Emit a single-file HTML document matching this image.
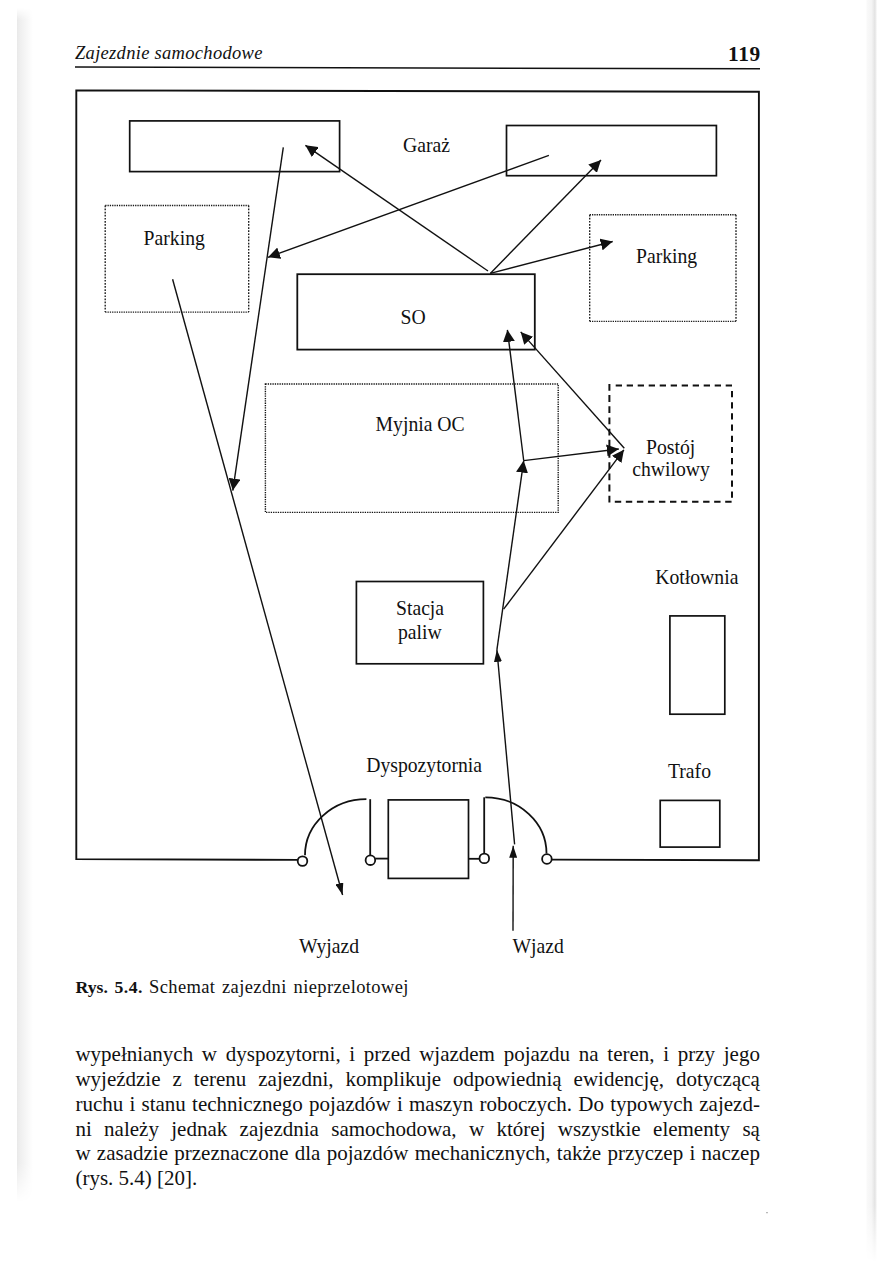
<!DOCTYPE html>
<html><head><meta charset="utf-8">
<style>
html,body{margin:0;padding:0;background:#fff;}
body{width:893px;height:1263px;position:relative;overflow:hidden;font-family:"Liberation Serif",serif;color:#111;}
.band{position:absolute;left:17px;top:8px;width:16px;height:1194px;background:linear-gradient(to right,#e9e9e9 0%,#efefef 20%,#f4f4f4 45%,#fafafa 75%,#fff 100%);-webkit-mask-image:linear-gradient(to bottom,transparent 0,#000 12px,#000 1155px,transparent 1194px);mask-image:linear-gradient(to bottom,transparent 0,#000 12px,#000 1155px,transparent 1194px);}
.rline{position:absolute;left:866px;top:0;width:11px;height:1262px;background:linear-gradient(to right,#fff 0%,#f9f9f9 10%,#f4f4f4 50%,#ececec 65%,#e3e3e3 80%,#f0f0f0 92%,#fff 100%);-webkit-mask-image:linear-gradient(to bottom,#000 0,#000 1205px,transparent 1262px);mask-image:linear-gradient(to bottom,#000 0,#000 1205px,transparent 1262px);}
svg{position:absolute;left:0;top:0;}
.hdr{position:absolute;font-size:18.5px;font-style:italic;left:75px;top:42px;letter-spacing:0.3px;white-space:nowrap;line-height:22px;}
.pno{position:absolute;font-size:21.4px;font-weight:bold;right:132.1px;top:42.5px;letter-spacing:0.65px;white-space:nowrap;line-height:22px;}
.body{position:absolute;left:75.4px;top:1042.4px;width:684.5px;font-size:21px;}
.body div{height:24.75px;line-height:24.75px;text-align:justify;text-align-last:justify;white-space:nowrap;}
.body div.last{text-align-last:left;}
.cap{position:absolute;top:975.7px;font-size:18.5px;letter-spacing:0.38px;white-space:nowrap;line-height:22px;}
.cap b{font-size:17.7px;letter-spacing:0;}
</style></head>
<body>
<div class="band"></div>
<div class="rline"></div>
<div class="hdr">Zajezdnie samochodowe</div>
<div class="pno">119</div>
<svg width="893" height="1263" viewBox="0 0 893 1263">
<defs>
<marker id="ah" viewBox="0 0 12 12" refX="12" refY="6" markerWidth="12" markerHeight="12" markerUnits="userSpaceOnUse" orient="auto">
<path d="M0,0 L12,6 L0,12 z" fill="#111"/>
</marker>
<marker id="ahs" viewBox="0 0 12 8" refX="12" refY="4" markerWidth="12" markerHeight="8" markerUnits="userSpaceOnUse" orient="auto">
<path d="M0,0 L12,4 L0,8 z" fill="#111"/>
</marker>
</defs>
<g fill="none" stroke="#111" stroke-linecap="butt">
<!-- header rule -->
<line x1="75" y1="67.1" x2="760" y2="68.8" stroke-width="1.5"/>
<!-- frame -->
<path d="M297.4,859.9 L76.3,859.1 L76.3,90.4 L758.9,91.8 L758.9,860.3 L552,859.6" stroke-width="1.9"/>
<!-- garage boxes -->
<rect x="129.7" y="120.9" width="209.9" height="50.7" stroke-width="1.7"/>
<rect x="506.5" y="125.5" width="209.9" height="50.2" stroke-width="1.7"/>
<!-- SO -->
<rect x="297.3" y="274.2" width="237.5" height="75.4" stroke-width="1.8"/>
<!-- stacja -->
<rect x="356.4" y="581.5" width="127" height="82.3" stroke-width="1.7"/>
<!-- kotlownia -->
<rect x="669.9" y="615.9" width="54.9" height="98.3" stroke-width="1.7"/>
<!-- trafo -->
<rect x="660.2" y="800.4" width="59.6" height="46.7" stroke-width="1.7"/>
<!-- dyspozytornia -->
<rect x="388.3" y="799.9" width="80.2" height="78.5" stroke-width="1.7"/>
</g>
<!-- dotted boxes -->
<g fill="none" stroke="#1a1a1a" stroke-width="1.35">
<path d="M105.2,205.5 H248.7 M105.2,312.1 H248.7" stroke-dasharray="1.3 1"/>
<path d="M105.2,205.5 V312.1 M248.7,205.5 V312.1" stroke-dasharray="1.7 1.4"/>
<path d="M589.7,214.7 H736.0 M589.7,321.29999999999995 H736.0" stroke-dasharray="1.3 1"/>
<path d="M589.7,214.7 V321.29999999999995 M736.0,214.7 V321.29999999999995" stroke-dasharray="1.7 1.4"/>
</g>
<rect x="265.4" y="384" width="292.8" height="128.4" fill="none" stroke="#111" stroke-width="1.4" stroke-dasharray="1.3 1.05"/>
<!-- dashed postoj -->
<g fill="none" stroke="#111" stroke-width="2">
<path d="M615.7,385.4 H733" stroke-dasharray="6.3 4.7"/>
<path d="M614.8,501.8 H733" stroke-dasharray="6.4 4.64"/>
<path d="M609.4,383.9 V502.8" stroke-dasharray="6.8 4.39"/>
<path d="M732,391 V498" stroke-dasharray="6.2 4.98"/>
</g>
<!-- gates -->
<g fill="none" stroke="#111" stroke-width="1.8">
<path d="M305,855.3 A61.4,56.1 0 0 1 366.4,799.2"/>
<line x1="370.2" y1="799.2" x2="370.2" y2="855.2"/>
<line x1="375.2" y1="858.6" x2="388.3" y2="858.6"/>
<line x1="468.5" y1="858.8" x2="479.3" y2="858.8"/>
<line x1="484.2" y1="797.3" x2="484.2" y2="853.3"/>
<path d="M485.3,797.3 A61.2,56.1 0 0 1 546.5,853.6"/>
<circle cx="302.5" cy="861.1" r="4.8" fill="#fff"/>
<circle cx="370.4" cy="860.2" r="4.8" fill="#fff"/>
<circle cx="484.3" cy="858.4" r="4.8" fill="#fff"/>
<circle cx="546.9" cy="859" r="4.8" fill="#fff"/>
</g>
<!-- arrows -->
<g fill="none" stroke="#111" stroke-width="1.4">
<!-- 1: garage-left down to tip -->
<line x1="283.3" y1="147.3" x2="232.8" y2="490.6" marker-end="url(#ah)"/>
<!-- 2: parking-left to wyjazd -->
<line x1="172.6" y1="279.3" x2="342.6" y2="895" marker-end="url(#ahs)"/>
<!-- 3: SO top to garage-left -->
<line x1="488" y1="271" x2="305.4" y2="145.3" marker-end="url(#ah)"/>
<!-- 4: garage-right to line1 -->
<line x1="548.9" y1="155.3" x2="268" y2="257.3" marker-end="url(#ah)"/>
<!-- 5: SO top to garage-right -->
<line x1="490.3" y1="273.4" x2="601" y2="160.1" marker-end="url(#ah)"/>
<!-- 6: SO top to parking-right -->
<line x1="490.3" y1="273.4" x2="612.7" y2="241.5" marker-end="url(#ah)"/>
<!-- 7: branch up into SO -->
<line x1="523.7" y1="460.6" x2="507.4" y2="329.9" marker-end="url(#ah)"/>
<!-- 8: postoj to SO corner -->
<line x1="624.3" y1="448.2" x2="520.7" y2="331.9" marker-end="url(#ah)"/>
<!-- 9: branch to postoj -->
<line x1="523.7" y1="460.6" x2="618.8" y2="449" marker-end="url(#ah)"/>
<!-- 10: stacja branch to postoj -->
<line x1="503.6" y1="609.2" x2="623.9" y2="449.8" marker-end="url(#ah)"/>
<!-- 11: chain up -->
<line x1="496.9" y1="649.8" x2="523.7" y2="460.6" marker-end="url(#ah)"/>
<line x1="514.6" y1="844.4" x2="496.9" y2="649.8" marker-end="url(#ahs)"/>
<!-- 12: wjazd -->
<line x1="513" y1="930.7" x2="513.2" y2="845.8" marker-end="url(#ahs)"/>
</g>
<!-- labels -->
<g font-family="Liberation Serif" font-size="19.7" fill="#111">
<text x="403" transform="translate(0,152.2) scale(1,1.045)">Garaż</text>
<text x="143.6" transform="translate(0,244.6) scale(1,1.045)">Parking</text>
<text x="636" transform="translate(0,262.8) scale(1,1.045)">Parking</text>
<text x="400.6" transform="translate(0,324) scale(1,1.045)">SO</text>
<text x="375.6" transform="translate(0,431) scale(1,1.045)">Myjnia OC</text>
<text x="646" transform="translate(0,454.2) scale(1,1.045)">Postój</text>
<text x="632.3" transform="translate(0,476) scale(1,1.045)">chwilowy</text>
<text x="396" transform="translate(0,615) scale(1,1.045)">Stacja</text>
<text x="398" transform="translate(0,638.8) scale(1,1.045)">paliw</text>
<text x="655.3" transform="translate(0,583.6) scale(1,1.045)">Kotłownia</text>
<text x="668" transform="translate(0,777.8) scale(1,1.045)">Trafo</text>
<text x="366.2" transform="translate(0,771.8) scale(1,1.045)">Dyspozytornia</text>
<text x="299" transform="translate(0,952.8) scale(1,1.045)">Wyjazd</text>
<text x="512.5" transform="translate(0,952.8) scale(1,1.045)">Wjazd</text>
</g>
<circle cx="767" cy="1212.7" r="0.6" fill="#666"/>
</svg>
<div class="cap" style="left:75.6px"><b>Rys.</b></div>
<div class="cap" style="left:114.4px"><b style="letter-spacing:0.5px">5.4.</b></div>
<div class="cap" style="left:149px">Schemat</div>
<div class="cap" style="left:222px">zajezdni</div>
<div class="cap" style="left:293.6px">nieprzelotowej</div>
<div class="body">
<div>wypełnianych w dyspozytorni, i przed wjazdem pojazdu na teren, i przy jego</div>
<div>wyjeździe z terenu zajezdni, komplikuje odpowiednią ewidencję, dotyczącą</div>
<div>ruchu i stanu technicznego pojazdów i maszyn roboczych. Do typowych zajezd-</div>
<div>ni należy jednak zajezdnia samochodowa, w której wszystkie elementy są</div>
<div>w zasadzie przeznaczone dla pojazdów mechanicznych, także przyczep i naczep</div>
<div class="last">(rys. 5.4) [20].</div>
</div>
</body></html>
